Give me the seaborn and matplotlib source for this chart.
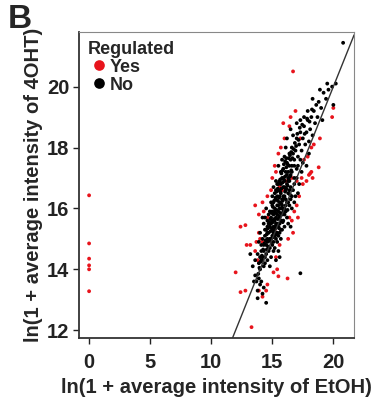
import pandas as pd
import numpy as np
import matplotlib
matplotlib.use('Agg')
import matplotlib.pyplot as plt
import seaborn as sns

sns.set_style('white')
plt.rcParams['font.family'] = ['Liberation Sans', 'DejaVu Sans']
plt.rcParams['font.weight'] = 'bold'

# ln(1 + intensity) pairs: (EtOH, 4OHT)
no_pts = [
    (13.5, 13.6), (13.7, 13.6), (13.9, 13.7), (14.1, 13.6), (13.6, 13.8), (14.0, 13.5),
    (14.3, 13.4), (13.8, 13.3), (14.2, 13.2), (13.6, 14.3), (13.4, 14.1), (14.5, 12.9),
    (13.8, 13.05), (14.0, 14.0), (13.9, 14.2), (14.2, 14.3), (13.2, 14.5), (14.4, 14.4),
    (14.1, 14.6), (14.3, 14.8), (14.5, 14.5), (14.6, 14.9), (14.2, 15.0), (14.4, 15.1),
    (14.7, 15.2), (14.8, 14.7), (14.9, 15.0), (14.5, 15.3), (14.3, 15.5), (14.6, 15.6),
    (14.8, 15.4), (15.0, 15.3), (15.1, 14.9), (14.9, 15.7), (14.7, 15.8), (15.2, 15.6),
    (15.0, 15.9), (14.4, 14.2), (14.6, 14.3), (14.8, 14.1), (15.1, 14.6), (15.3, 15.0),
    (13.9, 14.9), (14.0, 15.2), (14.2, 15.7), (14.5, 16.0), (15.4, 15.2), (15.5, 14.6),
    (15.6, 14.4), (15.3, 14.3), (14.9, 14.4), (15.7, 15.0), (14.1, 14.3), (14.3, 14.1),
    (14.7, 14.6), (15.0, 14.8), (14.6, 15.0), (14.4, 15.7),
    (15.1, 15.8), (15.2, 16.0), (15.3, 15.7), (15.4, 16.1), (15.5, 15.9), (15.6, 16.2),
    (15.4, 15.5), (15.5, 15.4), (15.6, 15.7), (15.7, 16.0), (15.8, 16.3), (15.3, 16.3),
    (15.2, 16.5), (15.5, 16.6), (15.7, 16.5), (15.9, 16.7), (16.0, 16.4), (15.8, 15.8),
    (16.0, 16.0), (15.9, 15.6), (16.1, 15.9), (16.2, 16.2), (15.4, 16.8), (15.6, 16.9),
    (15.8, 17.0), (16.0, 16.9), (16.1, 16.6), (16.3, 16.5), (16.2, 15.7), (16.4, 16.1),
    (15.1, 15.2), (15.2, 15.4), (15.3, 15.2), (15.0, 15.6), (14.9, 16.2), (15.0, 16.4),
    (15.1, 16.7), (15.3, 16.9), (15.7, 17.2), (15.9, 17.3), (16.1, 17.2), (16.3, 16.9),
    (16.4, 16.6), (16.5, 16.3), (16.6, 16.0), (16.3, 15.5), (16.5, 15.4), (15.6, 15.2),
    (15.8, 15.3), (16.0, 15.4), (16.7, 16.6), (16.5, 17.1), (16.2, 17.5), (16.0, 17.7),
    (15.8, 17.6), (15.5, 17.4), (16.6, 17.4), (16.8, 17.0), (16.9, 16.4), (17.2, 16.8),
    (16.4, 17.8), (16.6, 18.0), (16.8, 17.6), (16.9, 17.9), (17.0, 17.3), (17.1, 17.7),
    (17.2, 18.1), (17.0, 18.3), (16.7, 18.4), (17.3, 18.5), (17.4, 17.9), (17.5, 18.3),
    (17.6, 18.7), (17.3, 18.9), (17.7, 18.1), (17.8, 18.5), (17.5, 17.5), (17.9, 18.9),
    (18.0, 18.2), (18.1, 18.6), (16.2, 18.3), (16.5, 18.6), (17.0, 18.8), (17.6, 19.0),
    (17.9, 19.2), (18.2, 19.0), (18.3, 18.4), (18.0, 17.8), (17.8, 17.4), (17.4, 17.2),
    (16.8, 16.2), (17.1, 16.5), (16.3, 17.0), (16.1, 18.0), (18.4, 19.2), (18.5, 18.8),
    (18.6, 19.4), (18.7, 19.0), (18.3, 19.6), (18.8, 19.5),
    (19.0, 19.3), (19.2, 19.8), (19.4, 19.6), (19.6, 19.9), (19.9, 20.0), (20.0, 19.4),
    (19.5, 20.1), (19.1, 18.9), (18.9, 19.9), (20.2, 20.1), (20.8, 21.44), (17.3, 13.87),
    (14.8, 15.0), (14.9, 15.5), (15.0, 15.1), (15.1, 15.4), (15.2, 15.1), (15.3, 15.5),
    (15.4, 15.8), (15.5, 16.1), (15.6, 16.4), (15.7, 15.6), (15.8, 16.1), (15.9, 16.4),
    (16.0, 16.7), (16.1, 16.3), (16.2, 16.8), (16.3, 17.2), (16.4, 16.9), (16.5, 17.6),
    (16.6, 17.2), (16.7, 17.8), (15.2, 15.9), (15.4, 16.4), (15.6, 16.0), (15.9, 16.0),
    (16.1, 16.1), (14.7, 15.5), (14.6, 15.4), (14.5, 14.8), (14.3, 14.6), (14.2, 14.4),
    (14.8, 15.9), (15.0, 16.1), (15.1, 16.2), (15.3, 16.6), (15.5, 16.8), (15.7, 16.8),
    (15.9, 17.0), (16.2, 17.1), (16.4, 17.4), (16.8, 17.4), (15.6, 15.5), (15.7, 15.3),
    (15.9, 15.9), (16.3, 16.2), (16.5, 16.7), (16.6, 16.4), (16.8, 16.8), (17.0, 17.0),
    (17.1, 17.4), (17.3, 17.6), (14.0, 14.4), (13.8, 14.5), (14.1, 14.8), (14.4, 15.3),
    (14.6, 15.2), (14.9, 14.9), (15.2, 14.7), (15.4, 14.9), (15.5, 15.1), (16.0, 15.8),
    (14.65, 14.75), (14.75, 14.95), (14.85, 15.25), (14.95, 15.35), (15.05, 15.55), (15.15, 15.65),
    (15.25, 15.85), (15.35, 15.95), (15.45, 16.25), (15.55, 16.35), (15.65, 16.55), (15.75, 16.65),
    (15.85, 16.85), (15.95, 16.95), (16.05, 17.05), (16.15, 17.35), (16.25, 17.45), (16.35, 17.65),
    (16.45, 17.75), (16.55, 17.85), (14.45, 14.95), (14.55, 15.15), (14.65, 15.35), (14.75, 15.55),
    (14.85, 15.65), (14.95, 15.85), (15.05, 16.05), (15.15, 16.25), (15.25, 16.35), (15.35, 16.55),
    (15.45, 16.65), (15.55, 16.85), (15.65, 16.95), (15.75, 17.15), (15.85, 17.25), (15.95, 17.45),
    (16.05, 17.55), (16.15, 17.65), (15.05, 15.05), (15.15, 15.25), (15.25, 15.35), (15.35, 15.45),
    (15.45, 15.65), (15.55, 15.75), (15.65, 15.85), (15.75, 16.15), (15.85, 16.25), (15.95, 16.35),
    (16.05, 16.55), (16.15, 16.65), (16.25, 16.75), (16.35, 16.95), (16.45, 17.05), (16.55, 17.25),
    (14.35, 14.85), (14.25, 14.65), (14.15, 14.45), (14.05, 14.25), (13.95, 14.05), (13.85, 13.85),
    (16.65, 17.65), (16.75, 17.95), (16.85, 18.15), (16.95, 18.05), (17.05, 18.45), (17.15, 18.25),
    (17.25, 18.65), (17.45, 18.75), (17.65, 18.45), (17.85, 18.95), (18.05, 18.85), (18.25, 19.25),
    (14.55, 14.65), (15.35, 15.15), (15.55, 15.35), (15.85, 15.55), (16.25, 15.95), (16.45, 16.45),
]

yes_pts = [
    (0, 16.43), (0, 14.85), (0, 14.35), (0, 14.13), (0, 14.0), (0, 13.28),
    (16.7, 20.5), (15.9, 18.8), (19.9, 19.0), (20.0, 19.3), (18.9, 18.3), (18.8, 17.35),
    (18.1, 17.15), (18.2, 17.2), (18.0, 17.1), (18.3, 17.0), (16.25, 13.7), (15.5, 13.77),
    (13.3, 12.1), (12.0, 13.9), (12.4, 13.25), (12.8, 13.3), (12.4, 15.4), (12.8, 15.45),
    (13.6, 16.1), (13.9, 15.8), (12.9, 14.8), (13.2, 14.8),
    (14.6, 16.4), (14.2, 16.2), (14.3, 15.9), (13.9, 15.2), (13.7, 14.9), (13.6, 14.6),
    (13.8, 14.3), (14.2, 14.9), (14.0, 15.0), (14.6, 15.7), (14.9, 16.6), (15.0, 17.0),
    (15.3, 17.2), (15.2, 17.4), (15.5, 17.8), (15.7, 18.0), (16.0, 18.3), (16.4, 18.7),
    (16.5, 19.0), (16.9, 19.2), (17.3, 18.3), (16.4, 15.7), (16.6, 15.6), (16.8, 15.9),
    (17.0, 16.1), (17.2, 16.4), (16.7, 15.2), (16.3, 15.0), (17.1, 15.7), (17.5, 16.8),
    (17.4, 17.0), (17.8, 16.9), (17.6, 17.6), (18.2, 18.0), (18.4, 18.1), (17.9, 17.7),
    (15.4, 14.0), (15.1, 13.9), (14.6, 13.5), (14.5, 13.3), (13.9, 13.3), (14.2, 13.1),
    (15.6, 14.8), (15.2, 15.3), (15.8, 16.6), (16.1, 16.9), (15.6, 16.7), (16.6, 17.0),
    (17.0, 16.9), (15.3, 14.4),
]

df = pd.concat([
    pd.DataFrame(yes_pts, columns=['etoh', 'ohT']).assign(Regulated='Yes'),
    pd.DataFrame(no_pts, columns=['etoh', 'ohT']).assign(Regulated='No'),
], ignore_index=True)

fig = plt.figure(figsize=(3.82, 4.03), dpi=100)
ax = fig.add_axes([0.207, 0.161, 0.72, 0.76])

sns.scatterplot(data=df, x='etoh', y='ohT', hue='Regulated', hue_order=['Yes', 'No'],
                palette={'Yes': '#e8141c', 'No': 'black'}, s=7.5, linewidth=0, ax=ax)
ax.axline((12, 12), slope=1, color='#333333', lw=1, zorder=5)

ax.set_xlim(-0.82, 21.7)
ax.set_ylim(11.74, 21.8)
ax.set_xticks([0, 5, 10, 15, 20])
ax.set_yticks([12, 14, 16, 18, 20])
ax.tick_params(axis='both', labelsize=14.5, colors='#222222', length=4, width=1, direction='out',
               bottom=True, left=True, pad=3)
ax.tick_params(axis='x', pad=7)
for lbl in ax.get_xticklabels() + ax.get_yticklabels():
    lbl.set_fontweight('bold')
for side in ['top', 'right']:
    ax.spines[side].set_color('#888888')
    ax.spines[side].set_linewidth(0.8)
for side in ['left', 'bottom']:
    ax.spines[side].set_color('#333333')
    ax.spines[side].set_linewidth(1.3)

ax.set_xlabel('ln(1 + average intensity of EtOH)', fontsize=14.5, fontweight='bold', labelpad=4)
ax.set_ylabel('ln(1 + average intensity of 4OHT)', fontsize=14.5, fontweight='bold', labelpad=3)

leg = ax.legend(title='Regulated', loc='upper left', frameon=False, fontsize=13,
                title_fontproperties={'weight': 'bold', 'size': 13},
                handletextpad=0.0, borderaxespad=0.3, labelspacing=0.05, markerscale=2.8,
                alignment='left', borderpad=0.2, handlelength=1.2)
for t in leg.get_texts():
    t.set_fontweight('bold')

fig.text(0.02, 0.99, 'B', fontsize=24, fontweight='bold', va='top', ha='left')

fig.savefig('out.png', dpi=100)
